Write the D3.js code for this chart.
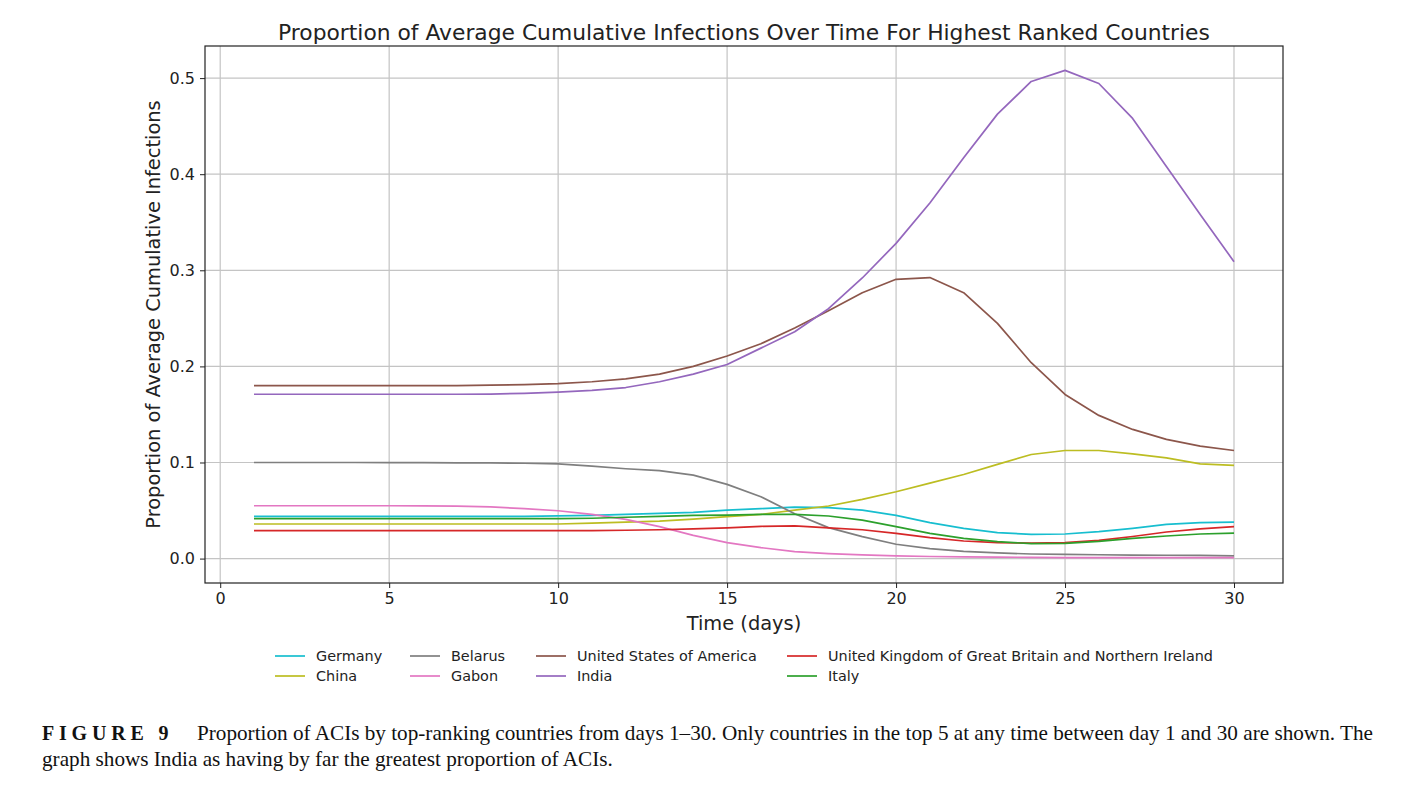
<!DOCTYPE html>
<html>
<head>
<meta charset="utf-8">
<script src="https://cdn.jsdelivr.net/npm/d3@7"></script>
<style>
  body { margin: 0; background: #fff; }
  text { font-family: "DejaVu Sans", sans-serif; }
</style>
</head>
<body>
<div id="chart"></div>
<script>
var days = d3.range(1, 31);
var germany = [0.044,0.044,0.044,0.044,0.044,0.044,0.044,0.044,0.044,0.0445,0.045,0.046,0.047,0.048,0.0505,0.052,0.0536,0.053,0.0505,0.045,0.0374,0.0315,0.027,0.0253,0.0256,0.028,0.0315,0.0356,0.0374,0.038];
var china = [0.036,0.036,0.036,0.036,0.036,0.036,0.036,0.036,0.036,0.036,0.037,0.038,0.039,0.041,0.0436,0.046,0.0505,0.0547,0.0616,0.0696,0.0785,0.0875,0.098,0.1083,0.1125,0.1125,0.109,0.1048,0.0986,0.0969];
var belarus = [0.1,0.1,0.1,0.1,0.0998,0.0998,0.0997,0.0995,0.0992,0.0986,0.0962,0.0935,0.0915,0.0868,0.0772,0.0644,0.0467,0.0322,0.0228,0.0149,0.0104,0.0076,0.0059,0.0048,0.0043,0.004,0.0037,0.0035,0.0033,0.0028];
var gabon = [0.055,0.055,0.055,0.055,0.055,0.0548,0.0545,0.0538,0.052,0.0498,0.046,0.0408,0.0332,0.0242,0.0166,0.0114,0.0073,0.0052,0.0038,0.0028,0.0022,0.0018,0.0015,0.0013,0.0011,0.001,0.001,0.001,0.001,0.001];
var usa = [0.18,0.18,0.18,0.18,0.18,0.18,0.18,0.1805,0.181,0.182,0.184,0.187,0.192,0.2,0.2108,0.2236,0.24,0.258,0.2767,0.2906,0.2924,0.2767,0.2448,0.2038,0.1708,0.149,0.1344,0.124,0.117,0.1125];
var india = [0.171,0.171,0.171,0.171,0.171,0.171,0.171,0.1712,0.172,0.1733,0.175,0.178,0.184,0.192,0.202,0.219,0.236,0.26,0.292,0.328,0.37,0.417,0.4625,0.4965,0.508,0.4944,0.458,0.408,0.358,0.309];
var uk = [0.029,0.029,0.029,0.029,0.029,0.029,0.029,0.029,0.029,0.029,0.029,0.0295,0.03,0.031,0.032,0.0336,0.034,0.032,0.03,0.0263,0.0218,0.0183,0.0166,0.016,0.0166,0.019,0.023,0.0277,0.031,0.0332];
var italy = [0.0415,0.0415,0.0415,0.0415,0.0415,0.0415,0.0415,0.0415,0.0415,0.0415,0.042,0.043,0.044,0.045,0.0453,0.046,0.046,0.0443,0.04,0.0332,0.0263,0.0211,0.0176,0.0156,0.0159,0.018,0.021,0.0235,0.0256,0.0266];

var names = ['Germany','China','Belarus','Gabon','United States of America','India','United Kingdom of Great Britain and Northern Ireland','Italy'];
var colors = ['#17becf','#bcbd22','#7f7f7f','#e377c2','#8c564b','#9467bd','#d62728','#2ca02c'];
var seriesValues = [germany, china, belarus, gabon, usa, india, uk, italy];
var xTicks = [0,5,10,15,20,25,30];
var yTicks = [0,0.1,0.2,0.3,0.4,0.5];

(function() {
  var width = 1404, height = 792;
  var pLeft = 205, pRight = 1283, pTop = 46, pBottom = 583;

  var svg = d3.select('#chart').append('svg')
    .attr('width', width)
    .attr('height', height);

  var x = d3.scaleLinear().domain([-0.45, 31.45]).range([pLeft, pRight]);
  var y = d3.scaleLinear().domain([-0.0254, 0.5334]).range([pBottom, pTop]);

  // grid
  svg.append('g').selectAll('line').data(xTicks).enter().append('line')
    .attr('x1', function(d) { return x(d); }).attr('x2', function(d) { return x(d); })
    .attr('y1', pTop).attr('y2', pBottom)
    .attr('stroke', '#c4c4c4').attr('stroke-width', 1.2);
  svg.append('g').selectAll('line').data(yTicks).enter().append('line')
    .attr('y1', function(d) { return y(d); }).attr('y2', function(d) { return y(d); })
    .attr('x1', pLeft).attr('x2', pRight)
    .attr('stroke', '#c4c4c4').attr('stroke-width', 1.2);

  // lines
  var line = d3.line()
    .x(function(d, i) { return x(days[i]); })
    .y(function(d) { return y(d); });

  svg.append('g').selectAll('path')
    .data(seriesValues)
    .enter()
    .append('path')
    .attr('fill', 'none')
    .attr('stroke', function(d, i) { return colors[i]; })
    .attr('stroke-width', 1.7)
    .attr('stroke-linejoin', 'round')
    .attr('d', line);

  // axes
  var xAxis = svg.append('g').attr('transform', 'translate(0,' + pBottom + ')')
    .call(d3.axisBottom(x).tickValues(xTicks).tickSize(5).tickPadding(5).tickFormat(d3.format('d')));
  var yAxis = svg.append('g').attr('transform', 'translate(' + pLeft + ',0)')
    .call(d3.axisLeft(y).tickValues(yTicks).tickSize(5).tickPadding(5).tickFormat(d3.format('.1f')));
  [xAxis, yAxis].forEach(function(a) {
    a.select('.domain').remove();
    a.selectAll('text').attr('font-size', 16).attr('fill', '#222').style('font-family', '"DejaVu Sans", sans-serif');
    a.selectAll('line').attr('stroke', '#222');
  });

  svg.append('rect')
    .attr('x', pLeft).attr('y', pTop)
    .attr('width', pRight - pLeft).attr('height', pBottom - pTop)
    .attr('fill', 'none').attr('stroke', '#222').attr('stroke-width', 1.2);

  // titles
  svg.append('text')
    .attr('x', (pLeft + pRight) / 2).attr('y', 40)
    .attr('text-anchor', 'middle').attr('font-size', 21.8).attr('fill', '#222')
    .text('Proportion of Average Cumulative Infections Over Time For Highest Ranked Countries');
  svg.append('text')
    .attr('x', (pLeft + pRight) / 2).attr('y', 630)
    .attr('text-anchor', 'middle').attr('font-size', 19.4).attr('fill', '#222')
    .text('Time (days)');
  svg.append('text')
    .attr('transform', 'translate(160,' + ((pTop + pBottom) / 2) + ') rotate(-90)')
    .attr('text-anchor', 'middle').attr('font-size', 19.4).attr('fill', '#222')
    .text('Proportion of Average Cumulative Infections');

  // legend (4 columns, filled column-wise)
  var colX = [275, 410, 536, 787];
  var rowY = [656, 676];
  var legend = svg.append('g').selectAll('g')
    .data(names)
    .enter()
    .append('g')
    .attr('transform', function(d, i) {
      return 'translate(' + colX[Math.floor(i / 2)] + ',' + rowY[i % 2] + ')';
    });
  legend.append('line')
    .attr('x1', 0).attr('x2', 30)
    .attr('stroke', function(d, i) { return colors[i]; })
    .attr('stroke-width', 1.7);
  legend.append('text')
    .attr('x', 41).attr('y', 5)
    .attr('font-size', 14.4).attr('fill', '#222')
    .text(function(d) { return d; });

  // caption
  var serif = '"Liberation Serif", "Times New Roman", serif';
  svg.append('text')
    .attr('x', 42).attr('y', 740)
    .attr('font-size', 20).attr('font-weight', 'bold').attr('letter-spacing', 4.8)
    .style('font-family', serif).attr('fill', '#111')
    .text('FIGURE 9');
  svg.append('text')
    .attr('x', 197).attr('y', 740)
    .attr('font-size', 21.2).attr('fill', '#111')
    .style('font-family', serif)
    .text('Proportion of ACIs by top-ranking countries from days 1\u201330. Only countries in the top 5 at any time between day 1 and 30 are shown. The');
  svg.append('text')
    .attr('x', 42).attr('y', 766)
    .attr('font-size', 21.2).attr('fill', '#111')
    .style('font-family', serif)
    .text('graph shows India as having by far the greatest proportion of ACIs.');
})();
</script>
</body>
</html>
